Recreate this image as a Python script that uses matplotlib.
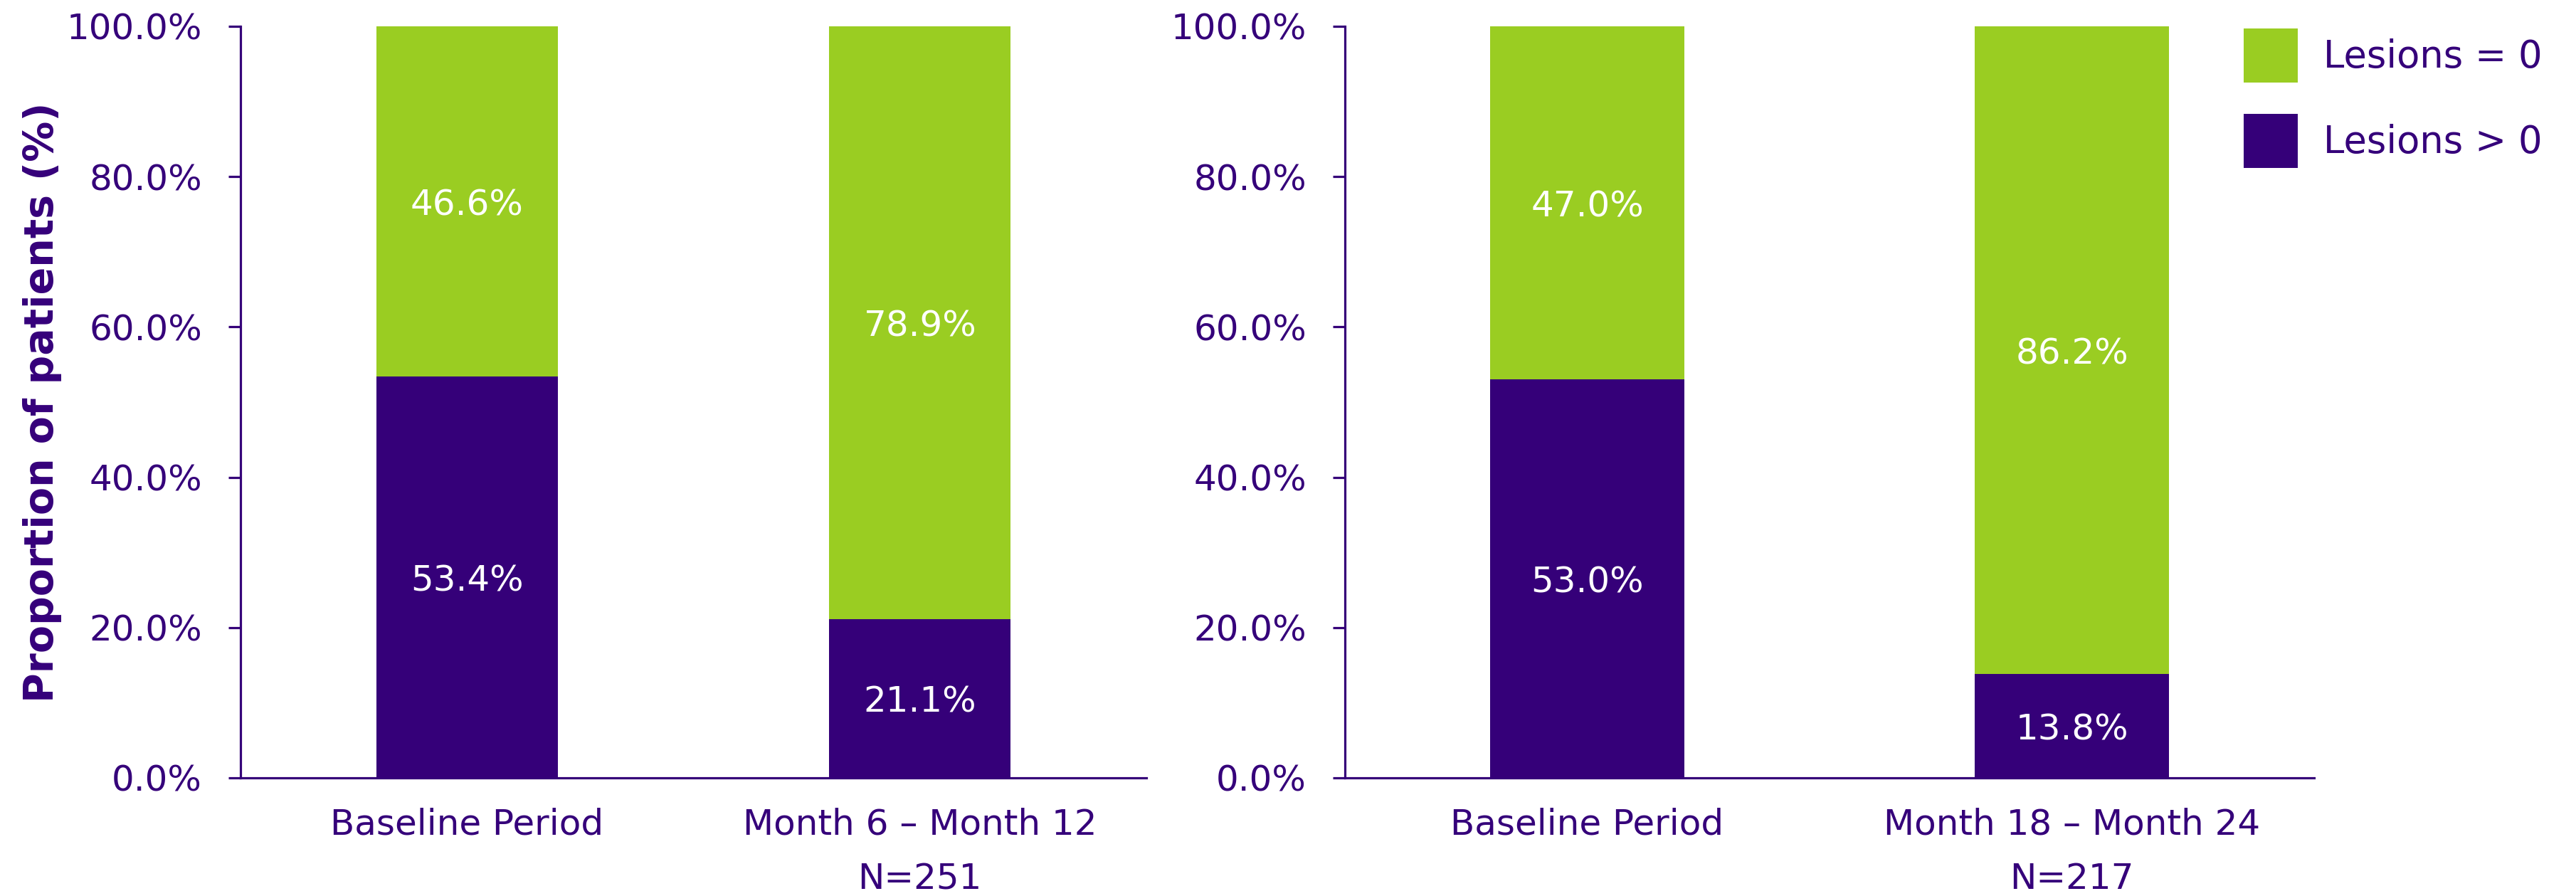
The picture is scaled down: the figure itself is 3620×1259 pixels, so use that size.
import matplotlib
matplotlib.use("Agg")
import matplotlib.pyplot as plt
from matplotlib.patches import Patch

plt.rcParams['font.family'] = ['DejaVu Sans']

# Data: share of patients (%) per period
periods_a = ["Baseline Period", "Month 6 \u2013 Month 12\nN=251"]
lesions_pos_a = [53.4, 21.1]
lesions_zero_a = [46.6, 78.9]

periods_b = ["Baseline Period", "Month 18 \u2013 Month 24\nN=217"]
lesions_pos_b = [53.0, 13.8]
lesions_zero_b = [47.0, 86.2]

y_ticks = [0, 20, 40, 60, 80, 100]
legend_labels = ["Lesions = 0", "Lesions > 0"]

GREEN = "#9ACD22"
PURPLE = "#350079"
TEXT = "#35007A"
FS = 36

W, H = 3620, 1259
fig = plt.figure(figsize=(W / 100, H / 100), dpi=100)


def panel(rect, cats, pos, zero, show_ylabel):
    ax = fig.add_axes(rect)
    x = list(range(len(cats)))
    ax.bar(x, pos, width=0.4, color=PURPLE, zorder=2)
    ax.bar(x, zero, width=0.4, bottom=pos, color=GREEN, zorder=2)
    for xi, p, z in zip(x, pos, zero):
        ax.text(xi, p / 2, f"{p:.1f}%", ha="center", va="center_baseline",
                color="white", fontsize=FS, zorder=3)
        ax.text(xi, p + z / 2, f"{z:.1f}%", ha="center", va="center_baseline",
                color="white", fontsize=FS, zorder=3)
    ax.set_xlim(-0.5, 1.5)
    ax.set_ylim(0, 100)
    ax.set_yticks(y_ticks)
    ax.set_yticklabels([f"{v:.1f}%" for v in y_ticks])
    ax.set_xticks(x)
    ax.set_xticklabels(cats, linespacing=1.75)
    for s in ("top", "right"):
        ax.spines[s].set_visible(False)
    for s in ("left", "bottom"):
        ax.spines[s].set_color(PURPLE)
        ax.spines[s].set_linewidth(2.3)
    ax.tick_params(axis="y", colors=PURPLE, labelcolor=TEXT, labelsize=FS,
                   length=12, width=2.3, pad=27)
    ax.tick_params(axis="x", length=0, labelcolor=TEXT, labelsize=FS, pad=30)
    if show_ylabel:
        ax.set_ylabel("Proportion of patients (%)", fontsize=41,
                      fontweight="bold", color=TEXT, labelpad=5)
    return ax


bottom = 1 - 1093 / H
height = 1056 / H
ax1 = panel([338 / W, bottom, (1611 - 338) / W, height],
            periods_a, lesions_pos_a, lesions_zero_a, True)
ax2 = panel([1890 / W, bottom, (3252 - 1890) / W, height],
            periods_b, lesions_pos_b, lesions_zero_b, False)

handles = [Patch(facecolor=GREEN, edgecolor="none"),
           Patch(facecolor=PURPLE, edgecolor="none")]
fig.legend(handles, legend_labels, loc="upper left",
           bbox_to_anchor=(3153 / W, 1 - 40 / H), frameon=False,
           fontsize=38, labelcolor=TEXT, borderpad=0, borderaxespad=0,
           handlelength=1.44, handleheight=1.84, handletextpad=0.68,
           labelspacing=0.84)

fig.savefig("out.png", dpi=100, facecolor="white")
